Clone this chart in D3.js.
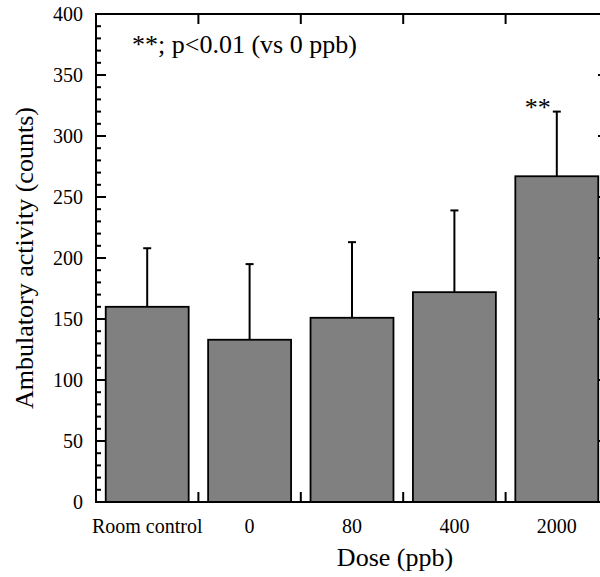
<!DOCTYPE html>
<html>
<head>
<meta charset="utf-8">
<script src="https://cdn.jsdelivr.net/npm/d3@7.9.0/dist/d3.min.js"></script>
<style>
  body { margin: 0; background: #fff; }
  svg { display: block; }
</style>
</head>
<body>
<svg id="chart" width="600" height="577" font-family="Times New Roman, Liberation Serif, DejaVu Serif, serif"></svg>
<script>
let doses = ['Room control', '0', '80', '400', '2000'];
let means = [160, 133, 151, 172, 267];
let errors = [48, 62, 62, 67, 53];
let marks = ['', '', '', '', '**'];
let yTicks = [0, 50, 100, 150, 200, 250, 300, 350, 400];

let plotLeft = 96, plotRight = 608, plotTop = 14, plotBottom = 502;
let serif = 'Times New Roman, Liberation Serif, DejaVu Serif, serif';

let svg = d3.select('#chart');

let x = d3.scaleBand().domain(doses).range([plotLeft, plotRight]).paddingInner(0.19).paddingOuter(0.095);
let xb = d3.scaleBand().domain(doses).range([plotLeft, plotRight]).padding(0);
let y = d3.scaleLinear().domain([0, 400]).range([plotBottom, plotTop]);

// bars
doses.forEach((d, i) => {
  svg.append('rect')
    .attr('x', x(d))
    .attr('y', y(means[i]))
    .attr('width', x.bandwidth())
    .attr('height', y(0) - y(means[i]))
    .attr('fill', '#808080')
    .attr('stroke', '#000')
    .attr('stroke-width', 1.8);

  let cx = x(d) + x.bandwidth() / 2;
  svg.append('line')
    .attr('x1', cx).attr('x2', cx)
    .attr('y1', y(means[i])).attr('y2', y(means[i] + errors[i]))
    .attr('stroke', '#000').attr('stroke-width', 2);
  svg.append('line')
    .attr('x1', cx - 4).attr('x2', cx + 4)
    .attr('y1', y(means[i] + errors[i])).attr('y2', y(means[i] + errors[i]))
    .attr('stroke', '#000').attr('stroke-width', 2);

  if (marks[i]) {
    svg.append('text')
      .attr('x', cx - 6)
      .attr('y', y(means[i] + errors[i]) + 4)
      .attr('text-anchor', 'end')
      .attr('font-family', serif)
      .attr('font-size', 26)
      .text(marks[i]);
  }

  // x tick labels
  svg.append('text')
    .attr('x', cx)
    .attr('y', 533)
    .attr('text-anchor', 'middle')
    .attr('font-family', serif)
    .attr('font-size', 20)
    .text(d);
});

// frame
svg.append('rect')
  .attr('x', plotLeft).attr('y', plotTop)
  .attr('width', plotRight - plotLeft).attr('height', plotBottom - plotTop)
  .attr('fill', 'none').attr('stroke', '#000').attr('stroke-width', 2);

// x boundary ticks (top and bottom, inward)
doses.slice(1).forEach((d) => {
  let bx = xb(d);
  svg.append('line').attr('x1', bx).attr('x2', bx).attr('y1', plotBottom).attr('y2', plotBottom - 10)
    .attr('stroke', '#000').attr('stroke-width', 2);
  svg.append('line').attr('x1', bx).attr('x2', bx).attr('y1', plotTop).attr('y2', plotTop + 10)
    .attr('stroke', '#000').attr('stroke-width', 2);
});

// y ticks, major and minor, on both sides pointing inward
d3.range(0, 401, 10).forEach((v) => {
  let len = v % 50 === 0 ? 10 : 5;
  svg.append('line').attr('x1', plotLeft).attr('x2', plotLeft + len).attr('y1', y(v)).attr('y2', y(v))
    .attr('stroke', '#000').attr('stroke-width', 2);
  svg.append('line').attr('x1', plotRight).attr('x2', plotRight - len).attr('y1', y(v)).attr('y2', y(v))
    .attr('stroke', '#000').attr('stroke-width', 2);
});

yTicks.forEach((v) => {
  svg.append('text')
    .attr('x', 83)
    .attr('y', y(v))
    .attr('dy', '0.35em')
    .attr('text-anchor', 'end')
    .attr('font-family', serif)
    .attr('font-size', 20)
    .text(v);
});

// titles
svg.append('text')
  .attr('x', 395).attr('y', 566)
  .attr('text-anchor', 'middle')
  .attr('font-family', serif)
  .attr('font-size', 26)
  .text('Dose (ppb)');

svg.append('text')
  .attr('transform', `translate(33, ${(plotTop + plotBottom) / 2}) rotate(-90)`)
  .attr('text-anchor', 'middle')
  .attr('font-family', serif)
  .attr('font-size', 26)
  .text('Ambulatory activity (counts)');

svg.append('text')
  .attr('x', 132).attr('y', 53)
  .attr('font-family', serif)
  .attr('font-size', 26)
  .text('**; p<0.01 (vs 0 ppb)');
</script>
</body>
</html>
